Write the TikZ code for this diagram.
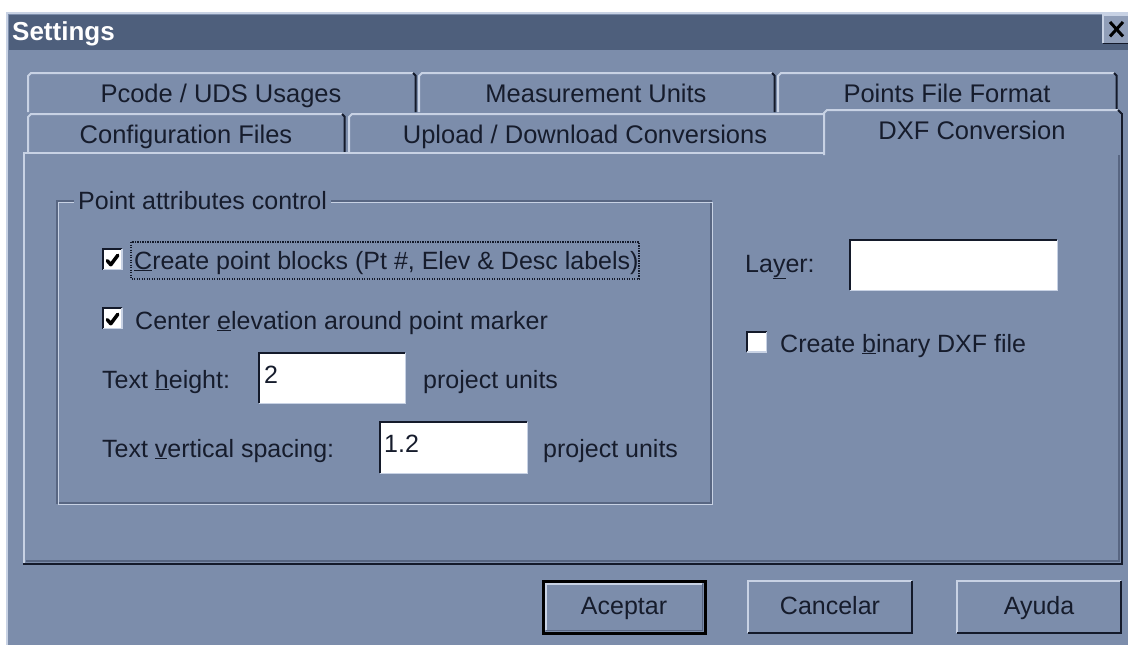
\documentclass[tikz,border=0pt]{standalone}
\usepackage{fontspec}
\setmainfont{Liberation Sans}
\definecolor{dlgbg}{RGB}{124,141,171}
\definecolor{titlebg}{RGB}{78,95,124}
\definecolor{hilite}{RGB}{200,210,228}
\definecolor{shade}{RGB}{20,26,42}
\definecolor{midshade}{RGB}{88,102,130}
\definecolor{ink}{RGB}{22,28,44}
\begin{document}
\begin{tikzpicture}[x=1pt,y=-1pt,
  lbl/.style={anchor=base west,inner sep=0pt,text=ink,font=\fontsize{25}{29}\selectfont},
  tablbl/.style={anchor=base,inner sep=0pt,text=ink,font=\fontsize{25.5}{30}\selectfont},
  btnlbl/.style={anchor=base,inner sep=0pt,text=ink,font=\fontsize{25}{30}\selectfont},
  hi/.style={draw=hilite,line width=2pt},
  sh/.style={draw=shade,line width=2pt},
  mid/.style={draw=midshade,line width=1.5pt},
  chkbox/.style={fill=white,minimum width=19pt,minimum height=20pt,inner sep=0pt},
  editbox/.style={fill=white,anchor=north west,inner sep=0pt},
  btnbox/.style={anchor=north west,inner sep=0pt,minimum height=52pt},
  tick/.style={draw=black,line width=3.5pt,line cap=round,line join=round}]
\useasboundingbox (0,0) rectangle (1128,645);
% screen background and dialog face
\fill[white] (0,0) rectangle (1128,645);
\fill[dlgbg] (6,12) rectangle (1128,645);
\draw[draw=hilite,line width=1.5pt] (6.75,645) -- (6.75,12.75) -- (1128,12.75);
% caption bar
\fill[titlebg] (9,15) rectangle (1128,50);
\node[anchor=base west,inner sep=0pt,text=white,font=\fontsize{26}{30}\selectfont\bfseries] (title) at (12,40) {Settings};
% close button
\node[fill=dlgbg!85!white,anchor=north west,minimum width=26pt,minimum height=28pt,inner sep=0pt] (close) at (1103,15) {};
\draw[draw=hilite,line width=1.5pt] (close.south west) -- (close.north west) -- (close.north east);
\draw[draw=shade,line width=1.5pt] (close.south west) -- (close.south east);
\draw[draw=black,line width=3pt] ([shift={(7,7)}]close.north west) -- ([shift={(20,-7)}]close.south west);
\draw[draw=black,line width=3pt] ([shift={(7,-7)}]close.south west) -- ([shift={(20,7)}]close.north west);

% back row of tabs
\draw[hi] (28,112) -- (28,76) -- (31,73) -- (413,73);
\draw[sh] (413,73) -- (415.5,75.5) -- (415.5,112);
\draw[hi] (419,112) -- (419,76) -- (422,73) -- (772,73);
\draw[sh] (772,73) -- (774.5,75.5) -- (774.5,112);
\draw[hi] (778,112) -- (778,76) -- (781,73) -- (1114,73);
\draw[sh] (1114,73) -- (1116.5,75.5) -- (1116.5,112);
\node[tablbl] (tpcode) at (221,102) {Pcode / UDS Usages};
\node[tablbl] (tmeas) at (596,102) {Measurement Units};
\node[tablbl] (tpts) at (947,102) {Points File Format};

% front row of tabs
\draw[hi] (28,153) -- (28,117) -- (31,114) -- (342,114);
\draw[sh] (342,114) -- (344.5,116.5) -- (344.5,153);
\draw[hi] (349,153) -- (349,117) -- (352,114) -- (824,114);
\node[tablbl] (tconf) at (186,143) {Configuration Files};
\node[tablbl] (tupl) at (585,143) {Upload / Download Conversions};

% page frame
\draw[hi] (24,563) -- (24,153) -- (824,153);
\draw[mid] (26,561) -- (1119,561) -- (1119,155);
\draw[sh] (23,563.5) -- (1121.5,563.5) -- (1121.5,113);

% selected tab
\fill[dlgbg] (825,111) rectangle (1120,155);
\draw[hi] (824,155) -- (824,113) -- (827,110) -- (1118,110);
\draw[sh] (1118,110) -- (1121.5,113.5);
\node[tablbl] (tdxf) at (972,139) {DXF Conversion};

% group box
\draw[mid] (57,201) rectangle (711,503);
\draw[draw=hilite,line width=1.5pt] (58.5,202.5) rectangle (712.5,504.5);
\node[lbl,fill=dlgbg,inner xsep=4pt,inner ysep=3pt] (grp) at (74,209) {Point attributes control};

% check box: create point blocks
\node[chkbox] (cb1) at (112.5,259.5) {};
\draw[draw=shade,line width=2pt] (cb1.south west) -- (cb1.north west) -- (cb1.north east);
\draw[draw=hilite,line width=1.5pt] (cb1.north east) -- (cb1.south east) -- (cb1.south west);
\draw[tick] ([shift={(4.5,-9)}]cb1.south west) -- ([shift={(8,-5)}]cb1.south west) -- ([shift={(15,6)}]cb1.north west);
\node[lbl] (t1) at (134,269) {\underline{C}reate point blocks (Pt \#, Elev \& Desc labels)};
\draw[draw=shade,line width=1.2pt,dash pattern=on 1.2pt off 1.3pt] (131,242) rectangle (639,279);

% check box: center elevation
\node[chkbox] (cb2) at (112.5,318.5) {};
\draw[draw=shade,line width=2pt] (cb2.south west) -- (cb2.north west) -- (cb2.north east);
\draw[draw=hilite,line width=1.5pt] (cb2.north east) -- (cb2.south east) -- (cb2.south west);
\draw[tick] ([shift={(4.5,-9)}]cb2.south west) -- ([shift={(8,-5)}]cb2.south west) -- ([shift={(15,6)}]cb2.north west);
\node[lbl] (t2) at (135,329) {Center \underline{e}levation around point marker};

% text height
\node[lbl] (th) at (102,388) {Text \underline{h}eight:};
\node[editbox,minimum width=146pt,minimum height=50pt] (eh) at (259,353) {};
\draw[draw=shade,line width=2.5pt] (eh.south west) -- (eh.north west) -- (eh.north east);
\draw[draw=hilite,line width=1.5pt] (eh.north east) -- (eh.south east) -- (eh.south west);
\node[lbl] (vh) at (264,383) {2};
\node[lbl] (uh) at (423,388) {project units};

% text vertical spacing
\node[lbl] (tv) at (102,457) {Text \underline{v}ertical spacing:};
\node[editbox,minimum width=147pt,minimum height=51pt] (ev) at (380,422) {};
\draw[draw=shade,line width=2.5pt] (ev.south west) -- (ev.north west) -- (ev.north east);
\draw[draw=hilite,line width=1.5pt] (ev.north east) -- (ev.south east) -- (ev.south west);
\node[lbl] (vv) at (384,452) {1.2};
\node[lbl] (uv) at (543,457) {project units};

% layer
\node[lbl] (tl) at (745,272) {La\underline{y}er:};
\node[editbox,minimum width=207pt,minimum height=50pt] (el) at (850,240) {};
\draw[draw=shade,line width=2.5pt] (el.south west) -- (el.north west) -- (el.north east);
\draw[draw=hilite,line width=1.5pt] (el.north east) -- (el.south east) -- (el.south west);

% binary DXF check box
\node[chkbox] (cb3) at (757,342) {};
\draw[draw=shade,line width=2pt] (cb3.south west) -- (cb3.north west) -- (cb3.north east);
\draw[draw=hilite,line width=1.5pt] (cb3.north east) -- (cb3.south east) -- (cb3.south west);
\node[lbl] (t3) at (780,352) {Create \underline{b}inary DXF file};

% push buttons
\node[btnbox,minimum width=162pt] (bok) at (543,581) {};
\draw[draw=black,line width=3pt] (bok.north west) rectangle (bok.south east);
\draw[draw=hilite,line width=1.5pt] ([shift={(3,-3)}]bok.south west) -- ([shift={(3,3)}]bok.north west) -- ([shift={(-3,3)}]bok.north east);
\draw[draw=midshade,line width=1.5pt] ([shift={(-3,3)}]bok.north east) -- ([shift={(-3,-3)}]bok.south east) -- ([shift={(3,-3)}]bok.south west);
\node[btnlbl] at (624,614) {Aceptar};

\node[btnbox,minimum width=164pt] (bcancel) at (748,581) {};
\draw[draw=hilite,line width=2pt] (bcancel.south west) -- (bcancel.north west) -- (bcancel.north east);
\draw[draw=shade,line width=2pt] (bcancel.north east) -- (bcancel.south east) -- (bcancel.south west);
\node[btnlbl] at (830,614) {Cancelar};

\node[btnbox,minimum width=164pt] (bhelp) at (957,581) {};
\draw[draw=hilite,line width=2pt] (bhelp.south west) -- (bhelp.north west) -- (bhelp.north east);
\draw[draw=shade,line width=2pt] (bhelp.north east) -- (bhelp.south east) -- (bhelp.south west);
\node[btnlbl] at (1039,614) {Ayuda};
\end{tikzpicture}
\end{document}
